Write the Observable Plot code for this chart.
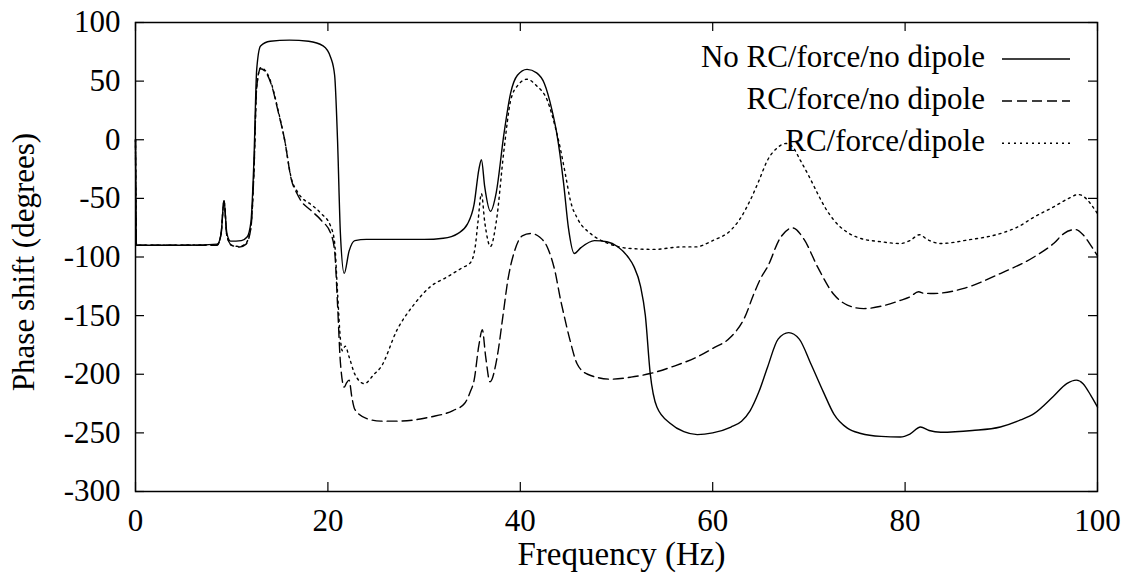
<!DOCTYPE html>
<html><head><meta charset="utf-8">
<script src="https://cdn.jsdelivr.net/npm/d3@7"></script>
<script src="https://cdn.jsdelivr.net/npm/@observablehq/plot@0.6"></script>
<style>body{margin:0;background:#fff}</style>
</head><body>
<div id="chart"></div>
<script>
// ---- data ----
const seriesNames = ["No RC/force/no dipole", "RC/force/no dipole", "RC/force/dipole"];

const freqNoRC = [0,0.1,5,8.5,8.9,9.2,9.5,9.9,11,11.6,12.0,12.3,12.6,13.0,14,16,18,19.5,20.3,20.7,21.0,21.3,21.7,22.2,22.8,24,30,32,33.5,34.5,35.2,35.7,35.96,36.3,36.9,37.5,38.3,39.0,39.7,40.7,41.7,42.5,43.3,43.8,44.5,45.0,45.6,46.3,47.7,49,50.1,51.2,51.8,52.5,53.0,53.5,54.2,55.6,57,58.4,60,61.9,63.0,63.9,64.8,65.7,66.8,67.9,69,70.2,71.5,72.6,74,75.4,77.5,79.5,80.5,81.6,82.5,83.7,87,89.9,92,93.4,95.4,96.8,97.8,98.5,99.3,100];
const phaseNoRC = [0,-90,-90,-89,-80,-52,-80,-86.5,-86,-83,-70,-20,60,80,84,85,84,80,70,55,0,-80,-114,-95,-86,-85,-85,-84,-80,-72,-55,-25,-17,-40,-61,-45,5,40,55,60,57,48,25,5,-37,-75,-97,-92,-86,-87,-91,-100,-108,-125,-150,-199,-228,-242,-249,-251.5,-250,-245,-240,-231,-215,-194,-170,-164.5,-170,-191,-215,-234,-246,-250.5,-253,-253.5,-251,-245,-248,-249.5,-248,-245,-239,-233.6,-219,-208,-205,-208,-218,-228];

const freqRCNoDipole = [0,0.1,5,8.5,8.9,9.2,9.5,10,10.8,11.5,12.0,12.3,12.6,13.0,13.5,14.2,14.8,15.5,16.2,16.8,17.2,18.2,19.3,20.3,20.7,21.0,21.3,21.7,21.9,22.2,22.5,22.8,24.1,25.5,27.2,30.7,33.0,34.2,34.8,35.2,35.7,36.05,36.4,36.85,37.6,38.2,38.7,39.4,40.2,41.1,42.0,42.8,43.6,44.2,44.5,45.2,45.9,47.0,49.4,51.5,53.5,56,58.4,60.0,61.9,63.3,64.3,65.0,65.7,67.0,68.3,69.5,70.9,72.6,74,75.7,77.5,79.5,80.5,81.4,82,83.0,86,89.9,93.4,95.5,96.5,97.7,98.5,99.3,100];
const phaseRCNoDipole = [0,-90,-90,-90,-80,-52,-82,-90,-91.5,-89,-75,-30,45,60.5,58,45,25,0,-34,-46,-52,-60,-68.6,-80,-95,-140,-190,-211,-208,-205,-220,-230,-238,-240,-240,-236.4,-231,-225,-215,-205,-175,-162,-185,-206.5,-185,-150,-120,-95,-82,-80,-83,-91.4,-112,-137,-148,-172,-191,-200,-204.2,-202.5,-199.4,-193,-185.2,-178,-168.1,-152,-131,-118,-108.4,-84,-75.2,-85,-108.4,-132,-141,-144,-142,-137,-134,-129.7,-131,-131.1,-127,-114.1,-100,-88,-80,-76.6,-81,-90,-99];

const freqRCDipole = [0,0.1,8.5,8.9,9.2,9.5,10,10.8,11.5,12.0,12.3,12.6,13.0,13.5,14.2,14.8,15.5,16.2,16.8,17.2,18.2,19.3,20.3,20.7,21.0,21.3,21.5,21.8,22.2,22.8,23.8,24.8,25.5,27.2,29,30.7,32.4,34.0,34.8,35.3,35.6,35.96,36.3,36.9,37.5,38.3,39.0,39.7,40.7,41.7,42.8,43.6,44.2,44.7,45.2,46.0,47.3,49,51.5,54,56.7,58.2,60,61.9,62.8,63.9,64.8,65.7,66.7,67.6,68.3,69.1,70.0,70.9,71.7,72.6,74,75.4,77.5,79.5,80.5,81.5,82.3,83.7,86.5,89.9,91.8,93.4,95.5,97,98.0,98.8,99.5,100];
const phaseRCDipole = [0,-90,-89.5,-80,-52,-82,-90,-91,-88,-74,-30,45,61.5,59,46,26,0,-33,-44,-48.7,-55,-62.9,-74,-88,-130,-170,-180,-176,-185,-200,-208,-200,-194,-162,-140,-125,-117,-109,-105,-92,-70,-46,-70,-91,-70,-9,33.7,46,51.6,46,33.7,12,-9,-30,-51.6,-68,-80,-88,-92.8,-93.5,-91.4,-91.4,-86,-77,-68,-51.6,-35,-17.4,-7,-3.2,-6,-17.4,-31,-45.8,-58,-68.6,-79,-84.2,-87,-88.5,-86,-81,-85,-88.5,-85.5,-80,-74,-66,-57,-50,-46.7,-50,-57,-63];

const xTicks = [0, 20, 40, 60, 80, 100];
const yTicks = [-300, -250, -200, -150, -100, -50, 0, 50, 100];
const xLabel = "Frequency (Hz)";
const yLabel = "Phase shift (degrees)";

// ---- layout / style ----
const FONT = "serif";
const W = 1138, H = 576, mL = 135, mR = 41, mT = 22, mB = 85;
const innerW = W - mL - mR, innerH = H - mT - mB;
const TICK = 9;
const dashes = [null, "10,5", "2,4"];
const LW = 1.4;

const rows = (f, p, s) => f.map((x, i) => ({f: x, p: p[i], s}));
const datasets = [
  rows(freqNoRC, phaseNoRC, seriesNames[0]),
  rows(freqRCNoDipole, phaseRCNoDipole, seriesNames[1]),
  rows(freqRCDipole, phaseRCDipole, seriesNames[2])
];

const legend = (index, scales, values, dims) => {
  const g = d3.create("svg:g").attr("font-family", FONT);
  const right = dims.width - dims.marginRight;
  const lineY = [59, 101, 143.3];
  const baseY = [66.7, 109, 150.5];
  seriesNames.forEach((name, i) => {
    g.append("text")
      .attr("x", right - 112).attr("y", baseY[i])
      .attr("text-anchor", "end")
      .attr("font-family", FONT)
      .attr("font-size", 31)
      .attr("fill", "black")
      .text(name);
    const l = g.append("line")
      .attr("x1", right - 95).attr("x2", right - 27)
      .attr("y1", lineY[i]).attr("y2", lineY[i])
      .attr("stroke", "black").attr("stroke-width", LW);
    if (dashes[i]) l.attr("stroke-dasharray", dashes[i]);
  });
  return g.node();
};

const chart = Plot.plot({
  width: W, height: H,
  marginLeft: mL, marginRight: mR, marginTop: mT, marginBottom: mB,
  style: {fontFamily: FONT, fontSize: "31px", background: "white", color: "black"},
  x: {domain: [0, 100], label: null},
  y: {domain: [-300, 100], label: null},
  marks: [
    // inward ticks on all four sides
    Plot.ruleX(xTicks, {stroke: "black", strokeWidth: 1.2, insetTop: innerH - TICK}),
    Plot.ruleX(xTicks, {stroke: "black", strokeWidth: 1.2, insetBottom: innerH - TICK}),
    Plot.ruleY(yTicks, {stroke: "black", strokeWidth: 1.2, insetRight: innerW - TICK}),
    Plot.ruleY(yTicks, {stroke: "black", strokeWidth: 1.2, insetLeft: innerW - TICK}),
    Plot.axisX({ticks: xTicks, tickSize: 0, tickPadding: 17, tickFormat: d => String(d), label: null}),
    Plot.axisY({ticks: yTicks, tickSize: 0, tickPadding: 15, tickFormat: d => String(d), label: null}),
    Plot.text([xLabel], {frameAnchor: "bottom", text: d => d, dy: 73, dx: 5, fontSize: 33, fill: "black"}),
    Plot.text([yLabel], {frameAnchor: "left", text: d => d, rotate: -90, textAnchor: "middle", dx: -111, dy: 5, fontSize: 31, fill: "black"}),
    Plot.line(datasets[0], {x: "f", y: "p", stroke: "black", strokeWidth: LW, curve: "monotone-x"}),
    Plot.line(datasets[1], {x: "f", y: "p", stroke: "black", strokeWidth: LW, curve: "monotone-x", strokeDasharray: dashes[1]}),
    Plot.line(datasets[2], {x: "f", y: "p", stroke: "black", strokeWidth: LW, curve: "monotone-x", strokeDasharray: dashes[2]}),
    Plot.frame({stroke: "black", strokeWidth: 1.5}),
    legend
  ]
});
chart.setAttribute("font-family", FONT);
document.getElementById("chart").appendChild(chart);
</script>
</body></html>
